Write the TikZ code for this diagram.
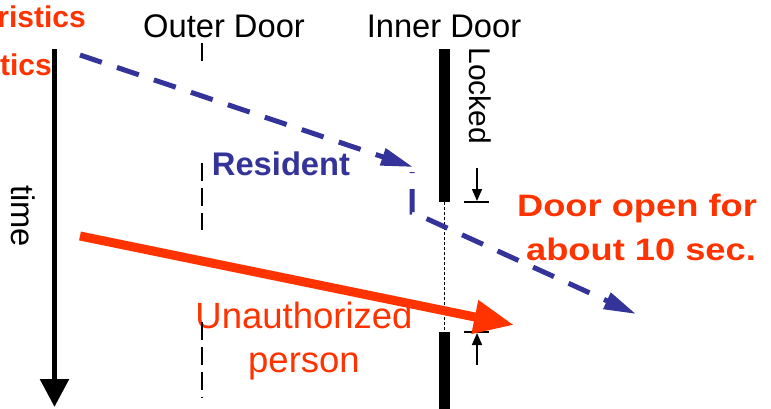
\documentclass[tikz,border=0pt]{standalone}
\usepackage{fontspec}
\setmainfont{Liberation Sans}
\newfontfamily\widesans[FakeStretch=1.17]{Liberation Sans}
\usetikzlibrary{arrows.meta}
\definecolor{alarmred}{RGB}{255,51,0}
\definecolor{resblue}{RGB}{51,51,153}

\begin{document}
\begin{tikzpicture}[x=1pt,y=-1pt,
  lbl/.style={inner sep=0pt,anchor=base,font=\fontsize{32.7}{39}\selectfont},
  redlbl/.style={inner sep=0pt,anchor=base,text=alarmred,font=\fontsize{36.5}{43}\selectfont},
  widelbl/.style={inner sep=0pt,anchor=base,text=alarmred,font=\widesans\bfseries\fontsize{31}{37}\selectfont},
  cutlbl/.style={inner sep=0pt,anchor=base east,text=alarmred,font=\bfseries\fontsize{30}{36}\selectfont},
  resident/.style={resblue,line width=5pt,dash pattern=on 23pt off 16pt,-{Triangle[width=17pt,length=32pt]}},
  doorline/.style={line width=2pt,dash pattern=on 18pt off 7pt},
  lockmark/.style={line width=1.5pt}]
\clip (0,0) rectangle (771,408);

% labels
\node[cutlbl] (chr1) at (86,27) {ristics};
\node[cutlbl] (chr2) at (52,75) {tics};
\node[lbl] (outer) at (224,37) {Outer Door};
\node[lbl] (inner) at (444,37) {Inner Door};
\node[lbl,text=resblue,font=\bfseries\fontsize{32.7}{39}\selectfont] (res) at (281,175) {Resident};
\node[lbl,anchor=center,rotate=-90] (time) at (23,216) {time};
\node[lbl,anchor=center,rotate=-90,font=\fontsize{30}{36}\selectfont] (locked) at (480,96) {Locked};
\node[redlbl] (unauth) at (304,328) {Unauthorized};
\node[redlbl] (person) at (304,372) {person};
\node[widelbl] (open1) at (637,216) {Door open for};
\node[widelbl] (open2) at (641,260) {about 10 sec.};

% time axis
\coordinate (t0) at (54.5,49);
\coordinate (t1) at (54.5,407);
\draw[line width=5.5pt,-{Triangle[width=28pt,length=28pt]}] (t0) -- (t1);

% outer door
\draw[doorline] (202,43) -- (202,64) (202,163) -- (202,230) (202,322) -- (202,398);

% inner door
\fill (439,49) rectangle (450,202);
\fill (439,332) rectangle (450,410);
\draw[line width=0.8pt,dash pattern=on 2.5pt off 2.5pt] (444.5,202) -- (444.5,332);

% locked span
\coordinate (l0) at (477,168);
\coordinate (l1) at (477,201);
\coordinate (l2) at (477,365);
\coordinate (l3) at (477,333);
\draw[lockmark] (464,202) -- (489,202);
\draw[lockmark,-{Triangle[width=10pt,length=12pt]}] (l0) -- (l1);
\draw[lockmark] (464,332) -- (489,332);
\draw[lockmark,-{Triangle[width=10pt,length=12pt]}] (l2) -- (l3);

% resident path
\coordinate (r0) at (80,55);
\coordinate (r1) at (413,167);
\coordinate (r2) at (412,172);
\coordinate (r3) at (412,212);
\coordinate (r4) at (636,314);
\draw[resident] (r0) -- (r1);
\draw[resident,dash phase=22pt,line join=miter] (r2) -- (r3) -- (r4);

% unauthorized person
\coordinate (u0) at (80,236);
\coordinate (u1) at (514,325);
\draw[alarmred,line width=9pt,-{Triangle[width=32pt,length=40pt]}] (u0) -- (u1);
\end{tikzpicture}
\end{document}
